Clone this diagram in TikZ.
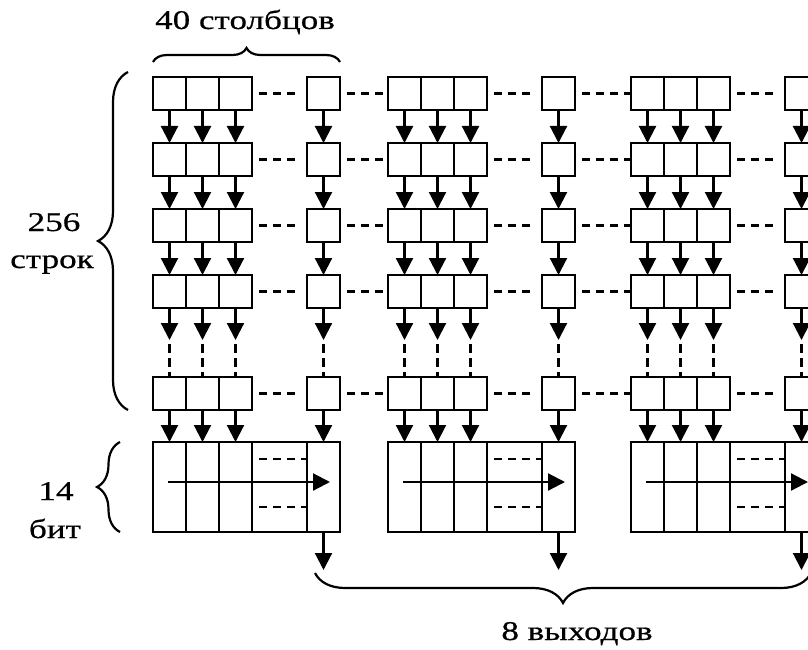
\documentclass[tikz,border=0pt]{standalone}
\usepackage{fontspec}
\setmainfont[FakeStretch=1.3,FakeBold=0.6]{Liberation Serif}
\usetikzlibrary{arrows.meta,calc,decorations.pathreplacing}

\tikzset{
  zelle/.style={draw, line width=2.4pt, minimum width=33pt, minimum height=33pt,
    inner sep=0pt, outer sep=0pt},
  regzelle/.style={zelle, minimum height=90pt},
  pfeil/.style={line width=2.2pt, -{Triangle[length=17pt,width=17pt]}},
  strich/.style={line width=2.2pt, dash pattern=on 8pt off 6pt},
  klammer/.style={line width=2.2pt, decorate, decoration={brace, amplitude=#1}},
  beschr/.style={font=\fontsize{27}{30}\selectfont, inner sep=0pt, anchor=base},
}

\begin{document}
\begin{tikzpicture}[x=1pt,y=-1pt]

% Gesamt-Boundingbox festlegen
\useasboundingbox (0,0) rectangle (808,650);

% ===================
% drei Gruppen: Zellen und Register
% ===================
\foreach \gx/\g in {153/1,388/2,631/3}{
  % Zeilen der Matrix
  \foreach \zy/\z in {77/1,143/2,209/3,275/4,377/5}{
    \foreach \k in {1,2,3}
      \node[zelle] (c-\g-\z-\k) at ({\gx+33*\k-16.5},{\zy+16.5}) {};
    \node[zelle] (c-\g-\z-4) at ({\gx+170.5},{\zy+16.5}) {};
    \draw[strich, shorten <=7pt, shorten >=8pt] (c-\g-\z-3.east) -- (c-\g-\z-4.west);
  }

  % Register (14 bit)
  \foreach \k in {1,2,3}
    \node[regzelle] (r-\g-\k) at ({\gx+33*\k-16.5},487) {};
  \node[regzelle, minimum width=55pt] (r-\g-m) at ({\gx+126.5},487) {};
  \node[regzelle] (r-\g-4) at ({\gx+170.5},487) {};
  \draw[strich, shorten <=7pt] ($(r-\g-m.west)+(0,-28)$) -- ($(r-\g-m.east)+(0,-28)$);
  \draw[strich, shorten <=7pt] ($(r-\g-m.west)+(0,20)$) -- ($(r-\g-m.east)+(0,20)$);
  \draw[pfeil] ($(r-\g-1.west)+(15,-5)$) -- ($(r-\g-4.east)+(-10,-5)$);

  % Pfeile nach unten
  \foreach \k in {1,...,4}{
    \foreach \z/\n in {1/2,2/3,3/4}
      \draw[pfeil] (c-\g-\z-\k.south) -- (c-\g-\n-\k.north);
    \coordinate (d-\g-\k) at ($(c-\g-4-\k.south)+(0,32)$);
    \draw[pfeil] (c-\g-4-\k.south) -- (d-\g-\k);
    \draw[strich, dash pattern=on 9pt off 5pt, shorten <=4pt] (d-\g-\k) -- (c-\g-5-\k.north);
    \draw[pfeil] (c-\g-5-\k.south) -- (r-\g-\k.north);
  }

  % Ausgang
  \coordinate (o-\g) at ($(r-\g-4.south)+(0,38)$);
  \draw[pfeil] (r-\g-4.south) -- (o-\g);
}

% Verbindungen zwischen den Gruppen
\foreach \z in {1,...,5}{
  \draw[strich, shorten <=7pt] (c-1-\z-4.east) -- (c-2-\z-1.west);
  \draw[strich, shorten <=7pt] (c-2-\z-4.east) -- (c-3-\z-1.west);
}

% ---------- Klammern ----------
\draw[klammer=14pt] ($(c-1-1-1.north west)+(0,-15)$) -- ($(c-1-1-4.north east)+(0,-15)$);
\draw[klammer=30pt] ($(c-1-5-1.south west)+(-25,0)$) -- ($(c-1-1-1.north west)+(-25,-5)$);
\draw[klammer=23pt] ($(r-1-1.south west)+(-33,0)$) -- ($(r-1-1.north west)+(-33,0)$);
\draw[klammer=30pt] ($(o-3)+(9.5,3)$) -- ($(o-1)+(-8.5,3)$);

% ---------- Beschriftung ----------
\node[beschr] (spalten) at (245,29) {40 столбцов};
\node[beschr] (zeilen) at (54,231) {256};
\node[beschr] (zeilen2) at (52,268) {строк};
\node[beschr] (bits) at (56,500) {14};
\node[beschr] (bits2) at (55,538) {бит};
\node[beschr] (ausg) at (577,640) {8 выходов};

\end{tikzpicture}
\end{document}
